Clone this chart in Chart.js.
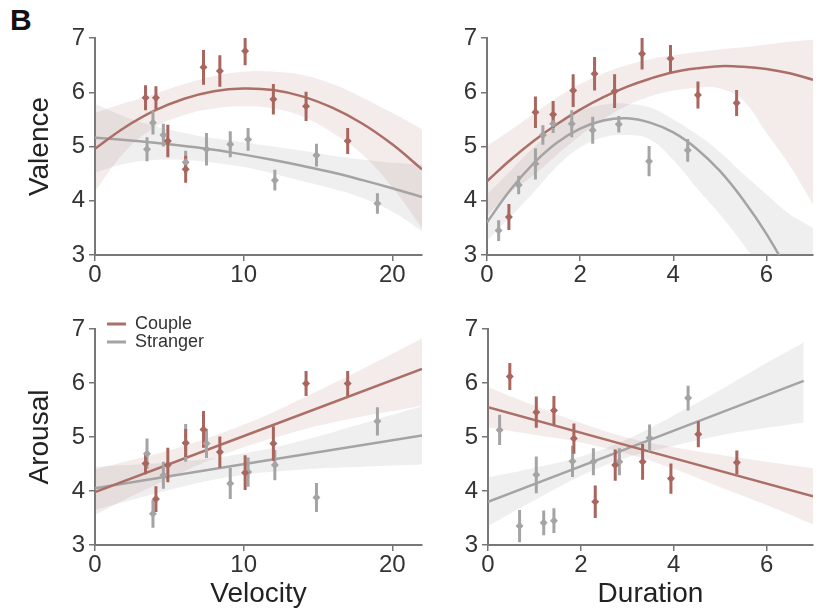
<!DOCTYPE html>
<html>
<head>
<meta charset="utf-8">
<script src="https://cdn.jsdelivr.net/npm/chart.js@4.4.1/dist/chart.umd.min.js"></script>
<style>
  body { margin: 0; background: #fff; }
  #wrap { position: relative; width: 817px; height: 614px; }
  canvas { position: absolute; }
  #panelLabel { position: absolute; left: 10px; top: 5px; font: bold 30px "Liberation Sans", Arial, sans-serif; line-height: 30px; color: #111; }
</style>
</head>
<body>
<div id="wrap">
  <div id="panelLabel">B</div>
  <canvas id="valVel" width="440" height="300" style="left:0;top:0"></canvas>
  <canvas id="valDur" width="377" height="300" style="left:440px;top:0"></canvas>
  <canvas id="aroVel" width="440" height="314" style="left:0;top:300px"></canvas>
  <canvas id="aroDur" width="377" height="314" style="left:440px;top:300px"></canvas>
</div>
<script>
// x positions of the condition means
var coupleVelocity = [3.4, 4.1, 4.9, 6.1, 7.3, 8.4, 10.1, 12.0, 14.2, 17.0];
var strangerVelocity = [3.5, 3.9, 4.6, 6.1, 7.5, 9.1, 10.3, 12.1, 14.9, 19.0];
var coupleDuration = [0.47, 1.04, 1.42, 1.85, 2.31, 2.74, 3.33, 3.94, 4.53, 5.36];
var strangerDuration = [0.25, 0.68, 1.04, 1.20, 1.42, 1.82, 2.27, 2.83, 3.48, 4.31];

// means and error bars
var coupleValVel = [5.90, 5.90, 5.10, 4.58, 6.46, 6.39, 6.76, 5.87, 5.74, 5.10];
var coupleValVelErr = [0.23, 0.21, 0.30, 0.25, 0.32, 0.29, 0.26, 0.28, 0.27, 0.24];
var strangerValVel = [4.95, 5.44, 5.21, 4.71, 4.95, 5.04, 5.13, 4.38, 4.84, 3.95];
var strangerValVelErr = [0.22, 0.22, 0.21, 0.21, 0.30, 0.24, 0.21, 0.19, 0.21, 0.19];

var coupleValDur = [3.70, 5.63, 5.59, 6.03, 6.34, 6.02, 6.71, 6.62, 5.95, 5.80];
var coupleValDurErr = [0.24, 0.29, 0.25, 0.30, 0.31, 0.31, 0.29, 0.25, 0.25, 0.24];
var strangerValDur = [3.45, 4.29, 4.68, 5.21, 5.42, 5.42, 5.30, 5.41, 4.73, 4.93];
var strangerValDurErr = [0.19, 0.17, 0.29, 0.18, 0.17, 0.25, 0.25, 0.15, 0.28, 0.21];

var coupleAroVel = [4.51, 3.85, 4.48, 4.89, 5.14, 4.72, 4.34, 4.88, 5.99, 5.99];
var coupleAroVelErr = [0.20, 0.24, 0.32, 0.26, 0.34, 0.29, 0.32, 0.32, 0.23, 0.23];
var strangerAroVel = [4.69, 3.58, 4.29, 4.89, 4.88, 4.14, 4.35, 4.48, 3.88, 5.29];
var strangerAroVelErr = [0.28, 0.26, 0.25, 0.35, 0.27, 0.29, 0.27, 0.28, 0.27, 0.26];

var coupleAroDur = [6.12, 5.46, 5.49, 4.97, 3.80, 4.48, 4.54, 4.23, 5.05, 4.53];
var coupleAroDurErr = [0.25, 0.29, 0.27, 0.28, 0.30, 0.29, 0.33, 0.28, 0.24, 0.22];
var strangerAroDur = [5.13, 3.35, 4.30, 3.41, 3.45, 4.55, 4.54, 4.54, 4.98, 5.72];
var strangerAroDurErr = [0.28, 0.30, 0.34, 0.23, 0.23, 0.29, 0.25, 0.25, 0.25, 0.23];

// fitted curves and their confidence bands
var velocityFitX = [0, 2, 4, 6, 8, 10, 12, 14, 16, 18, 20, 22];
var durationFitX = [0, 0.5, 1, 1.5, 2, 2.5, 3, 3.5, 4, 4.5, 5, 5.5, 6, 6.5, 7];

var coupleValVelFit = [4.96, 5.35, 5.66, 5.88, 6.02, 6.07, 6.04, 5.92, 5.71, 5.42, 5.04, 4.58];
var coupleValVelUp = [5.62, 5.80, 5.97, 6.15, 6.30, 6.38, 6.38, 6.32, 6.15, 5.90, 5.62, 5.32];
var coupleValVelLo = [4.18, 4.90, 5.35, 5.58, 5.70, 5.74, 5.70, 5.55, 5.25, 4.85, 4.25, 3.50];
var strangerValVelFit = [5.16, 5.12, 5.07, 5.01, 4.94, 4.85, 4.75, 4.64, 4.52, 4.38, 4.23, 4.07];
var strangerValVelUp = [5.79, 5.55, 5.38, 5.25, 5.15, 5.08, 5.00, 4.92, 4.83, 4.76, 4.70, 4.67];
var strangerValVelLo = [4.52, 4.68, 4.75, 4.75, 4.70, 4.62, 4.50, 4.36, 4.22, 4.05, 3.80, 3.44];

var coupleValDurFit = [4.36, 4.75, 5.10, 5.41, 5.68, 5.91, 6.10, 6.25, 6.37, 6.44, 6.48, 6.47, 6.43, 6.35, 6.23];
var coupleValDurUp = [5.01, 5.30, 5.60, 5.90, 6.15, 6.35, 6.50, 6.61, 6.68, 6.74, 6.79, 6.83, 6.88, 6.93, 6.97];
var coupleValDurLo = [3.72, 4.15, 4.47, 4.85, 5.20, 5.50, 5.75, 5.92, 6.03, 6.08, 6.07, 5.85, 5.25, 4.65, 3.93];
var strangerValDurFit = [3.60, 4.20, 4.69, 5.07, 5.33, 5.48, 5.52, 5.44, 5.26, 4.96, 4.55, 4.02, 3.39, 2.64, 1.77];
var strangerValDurUp = [4.12, 4.55, 4.98, 5.38, 5.65, 5.77, 5.79, 5.72, 5.50, 5.23, 4.90, 4.50, 4.12, 3.75, 3.50];
var strangerValDurLo = [3.26, 3.70, 4.15, 4.63, 4.98, 5.17, 5.21, 5.13, 4.75, 4.24, 3.75, 3.20, 2.60, 2.00, 1.40];

var velocityLineX = [0, 22];
var coupleAroVelFit = [3.98, 6.26];
var coupleAroVelUp = [4.40, 4.54, 4.68, 4.84, 5.02, 5.23, 5.46, 5.72, 5.99, 6.26, 6.54, 6.83];
var coupleAroVelLo = [3.56, 3.84, 4.10, 4.36, 4.60, 4.81, 4.98, 5.14, 5.27, 5.38, 5.48, 5.58];
var strangerAroVelFit = [4.05, 5.03];
var strangerAroVelUp = [4.45, 4.48, 4.51, 4.55, 4.61, 4.70, 4.80, 4.94, 5.09, 5.25, 5.41, 5.57];
var strangerAroVelLo = [3.65, 3.80, 3.95, 4.09, 4.21, 4.30, 4.36, 4.40, 4.43, 4.45, 4.47, 4.49];

var coupleDurLineX = [0, 7];
var strangerDurLineX = [0, 6.8];
var coupleDurBandX = [0, 1, 2, 3, 4, 5, 6, 7];
var strangerDurBandX = [0, 1, 2, 3, 4, 5, 6, 6.8];
var coupleAroDurFit = [5.55, 3.90];
var coupleAroDurUp = [5.92, 5.58, 5.26, 4.99, 4.81, 4.67, 4.54, 4.42];
var coupleAroDurLo = [5.18, 5.04, 4.90, 4.69, 4.41, 4.07, 3.74, 3.38];
var strangerAroDurFit = [3.80, 6.04];
var strangerAroDurUp = [4.25, 4.43, 4.64, 4.96, 5.40, 5.87, 6.37, 6.75];
var strangerAroDurLo = [3.35, 3.83, 4.28, 4.62, 4.84, 5.03, 5.17, 5.27];

var coupleColor = '#a8665e';
var coupleLine = '#ac6f67';
var strangerColor = '#a4a4a4';
var coupleBand = 'rgba(170, 110, 100, 0.13)';
var strangerBand = 'rgba(150, 150, 150, 0.15)';
var font = '"Liberation Sans", Arial, sans-serif';

Chart.defaults.font.family = font;
Chart.defaults.color = '#333';

function pts(xs, ys) {
  return xs.map(function (x, i) { return {x: x, y: ys[i]}; });
}

// each bar is two points followed by a gap
function errBars(xs, ys, errs) {
  var out = [];
  xs.forEach(function (x, i) {
    out.push({x: x, y: ys[i] - errs[i]}, {x: x, y: ys[i] + errs[i]}, {x: x, y: null});
  });
  return out;
}

// small legend swatch, padded on the left so the line sits like in the figure
function legendLine(color) {
  var c = document.createElement('canvas');
  c.width = 31;
  c.height = 4;
  var g = c.getContext('2d');
  g.fillStyle = color;
  g.fillRect(12, 0.5, 20, 3);
  return c;
}

function series(name, color, lineColor, band, xs, ys, errs, lineX, fit, bandX, up, lo) {
  return [
    {label: name + ' band', data: pts(bandX, up), borderWidth: 0, pointRadius: 0, fill: '+1', backgroundColor: band, tension: 0.4, order: 4},
    {label: name + ' band low', data: pts(bandX, lo), borderWidth: 0, pointRadius: 0, fill: false, tension: 0.4, order: 4},
    {label: name, data: pts(lineX, fit), borderColor: lineColor, borderWidth: 2.5, pointRadius: 0, pointStyle: legendLine(lineColor), fill: false, tension: 0.4, order: 3},
    {label: name + ' sem', data: errBars(xs, ys, errs), borderColor: color, borderWidth: 3, pointRadius: 0, fill: false, order: 2},
    {label: name + ' mean', data: pts(xs, ys), showLine: false, pointStyle: 'rectRot', pointRadius: 4, backgroundColor: color, borderWidth: 0, order: 1}
  ];
}

function axes(xMax, xStep, xTitle, yTitle, yWidth, xHeight) {
  var axisColor = '#777';
  return {
    x: {
      type: 'linear', min: 0, max: xMax,
      ticks: {stepSize: xStep, includeBounds: false, font: {size: 24}, color: '#333', padding: 0, maxRotation: 0},
      grid: {drawOnChartArea: false, tickLength: 6, color: axisColor, lineWidth: 1.5},
      border: {color: axisColor, width: 2},
      title: {display: !!xTitle, text: xTitle, font: {size: 28}, color: '#222', padding: {top: 0, bottom: 3}},
      afterFit: function (s) { s.height = xHeight; }
    },
    y: {
      min: 3, max: 7,
      ticks: {stepSize: 1, font: {size: 24}, color: '#333', padding: 4},
      grid: {drawOnChartArea: false, tickLength: 6, color: axisColor, lineWidth: 1.5},
      border: {color: axisColor, width: 2},
      title: {display: !!yTitle, text: yTitle, font: {size: 28}, color: '#222', padding: {top: 23, bottom: 0}},
      afterFit: function (s) { s.width = yWidth; }
    }
  };
}

function panel(id, datasets, scales, padding, showLegend) {
  new Chart(document.getElementById(id), {
    type: 'line',
    data: {datasets: datasets},
    options: {
      responsive: false,
      animation: false,
      events: [],
      layout: {padding: padding},
      scales: scales,
      plugins: {
        tooltip: {enabled: false},
        legend: {
          display: showLegend,
          position: 'chartArea',
          align: 'start',
          title: {display: true, text: '', font: {size: 15, lineHeight: 1}, padding: 0},
          labels: {
            usePointStyle: true,
            pointStyleWidth: 31,
            padding: 0,
            color: '#333',
            font: {size: 18},
            filter: function (item) { return item.text === 'Couple' || item.text === 'Stranger'; }
          }
        }
      }
    }
  });
}

panel('valVel',
  series('Couple', coupleColor, coupleLine, coupleBand, coupleVelocity, coupleValVel, coupleValVelErr,
    velocityFitX, coupleValVelFit, velocityFitX, coupleValVelUp, coupleValVelLo)
  .concat(series('Stranger', strangerColor, strangerColor, strangerBand, strangerVelocity, strangerValVel, strangerValVelErr,
    velocityFitX, strangerValVelFit, velocityFitX, strangerValVelUp, strangerValVelLo)),
  axes(22, 10, '', 'Valence', 95, 45),
  {top: 38, right: 18, left: 0, bottom: 0}, false);

panel('valDur',
  series('Couple', coupleColor, coupleLine, coupleBand, coupleDuration, coupleValDur, coupleValDurErr,
    durationFitX, coupleValDurFit, durationFitX, coupleValDurUp, coupleValDurLo)
  .concat(series('Stranger', strangerColor, strangerColor, strangerBand, strangerDuration, strangerValDur, strangerValDurErr,
    durationFitX, strangerValDurFit, durationFitX, strangerValDurUp, strangerValDurLo)),
  axes(7, 2, '', '', 47, 45),
  {top: 38, right: 3, left: 0, bottom: 0}, false);

panel('aroVel',
  series('Couple', coupleColor, coupleLine, coupleBand, coupleVelocity, coupleAroVel, coupleAroVelErr,
    velocityLineX, coupleAroVelFit, velocityFitX, coupleAroVelUp, coupleAroVelLo)
  .concat(series('Stranger', strangerColor, strangerColor, strangerBand, strangerVelocity, strangerAroVel, strangerAroVelErr,
    velocityLineX, strangerAroVelFit, velocityFitX, strangerAroVelUp, strangerAroVelLo)),
  axes(22, 10, 'Velocity', 'Arousal', 95, 69),
  {top: 29, right: 18, left: 0, bottom: 0}, true);

panel('aroDur',
  series('Couple', coupleColor, coupleLine, coupleBand, coupleDuration, coupleAroDur, coupleAroDurErr,
    coupleDurLineX, coupleAroDurFit, coupleDurBandX, coupleAroDurUp, coupleAroDurLo)
  .concat(series('Stranger', strangerColor, strangerColor, strangerBand, strangerDuration, strangerAroDur, strangerAroDurErr,
    strangerDurLineX, strangerAroDurFit, strangerDurBandX, strangerAroDurUp, strangerAroDurLo)),
  axes(7, 2, 'Duration', '', 48, 69),
  {top: 29, right: 3, left: 0, bottom: 0}, false);
</script>
</body>
</html>
